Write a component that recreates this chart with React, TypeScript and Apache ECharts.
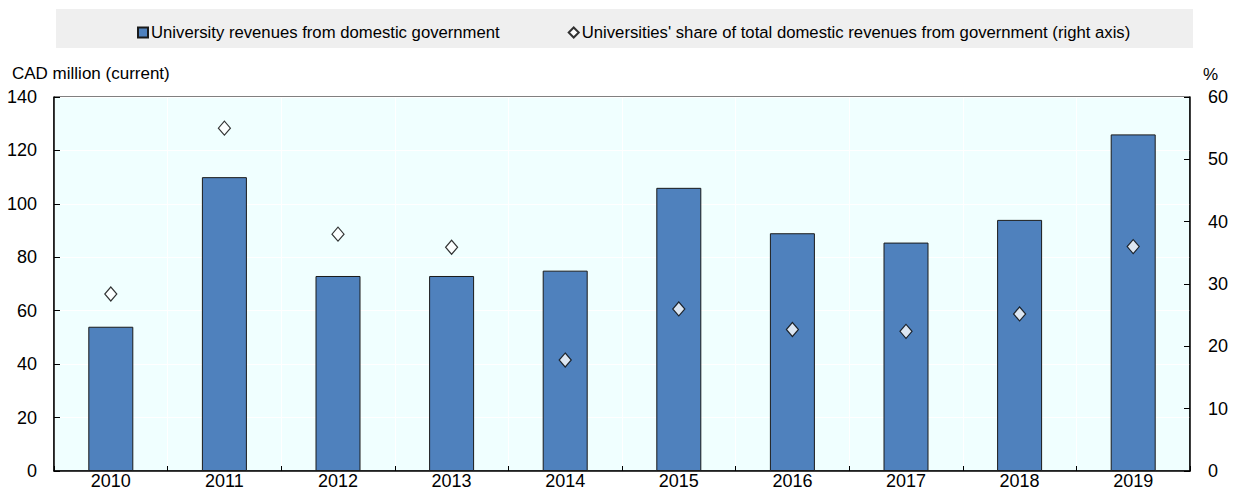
import React, { useEffect, useRef } from "react";
import * as echarts from "echarts";

const years = ["2010", "2011", "2012", "2013", "2014", "2015", "2016", "2017", "2018", "2019"];
const revenues = [54, 110, 73, 73, 75, 106, 89, 85.5, 94, 126];
const shares = [28.4, 55, 38, 35.9, 17.8, 26, 22.7, 22.4, 25.2, 36];
const barName = "University revenues from domestic government";
const shareName = "Universities' share of total domestic revenues from government (right axis)";
const leftAxisTitle = "CAD million (current)";
const rightAxisTitle = "%";

const FONT = "'Liberation Sans', Arial, Helvetica, sans-serif";

export default function App() {
  const ref = useRef<HTMLDivElement>(null);
  useEffect(() => {
    if (!ref.current) return;
    const chart = echarts.init(ref.current, undefined, { renderer: "svg" });
    chart.setOption({
      animation: false,
      textStyle: { fontFamily: FONT, color: "#000" },
      graphic: [
        {
          type: "rect",
          z: -10,
          shape: { x: 56, y: 9, width: 1137, height: 39 },
          style: { fill: "#EFEFEF" },
          silent: true,
        },
        {
          type: "text",
          x: 12,
          y: 73,
          style: { text: leftAxisTitle, font: `17px ${FONT}`, fill: "#000", textVerticalAlign: "middle" },
        },
        {
          type: "text",
          x: 1203,
          y: 74,
          style: { text: rightAxisTitle, font: `17px ${FONT}`, fill: "#000", textVerticalAlign: "middle" },
        },
      ],
      legend: {
        left: 132,
        top: 19,
        itemWidth: 10,
        itemHeight: 10,
        itemGap: 68,
        textStyle: { fontSize: 16.7, color: "#000", fontFamily: FONT, padding: [0, 0, 0, -2] },
        data: [
          { name: barName, icon: "rect" },
          { name: shareName, icon: "diamond" },
        ],
      },
      grid: {
        left: 54,
        right: 46,
        top: 97,
        bottom: 24,
        show: true,
        backgroundColor: "#F0FFFF",
        borderColor: "#000",
        borderWidth: 1,
        containLabel: false,
      },
      xAxis: {
        type: "category",
        data: years,
        boundaryGap: true,
        axisLine: { show: true, lineStyle: { color: "#000", width: 1.5 } },
        axisTick: { show: true, inside: true, length: 5, lineStyle: { color: "#000" } },
        axisLabel: { color: "#000", fontSize: 18, margin: 1, fontFamily: FONT },
        splitLine: { show: true, lineStyle: { color: "#FFFFFF", width: 1 } },
      },
      yAxis: [
        {
          type: "value",
          min: 0,
          max: 140,
          interval: 20,
          axisLine: { show: true, lineStyle: { color: "#000", width: 1.5 } },
          axisTick: { show: true, inside: true, length: 6, lineStyle: { color: "#000" } },
          axisLabel: { color: "#000", fontSize: 18, margin: 17, fontFamily: FONT },
          splitLine: { show: true, lineStyle: { color: "#FFFFFF", width: 1 } },
        },
        {
          type: "value",
          position: "right",
          min: 0,
          max: 60,
          interval: 10,
          axisLine: { show: true, lineStyle: { color: "#000", width: 1.5 } },
          axisTick: { show: true, inside: true, length: 6, lineStyle: { color: "#000" } },
          axisLabel: { color: "#000", fontSize: 18, margin: 18, fontFamily: FONT },
          splitLine: { show: false },
        },
      ],
      series: [
        {
          name: barName,
          type: "bar",
          data: revenues,
          barWidth: 45,
          itemStyle: { color: "#4F81BD", borderColor: "#1A1A1A", borderWidth: 1 },
        },
        {
          name: shareName,
          type: "scatter",
          yAxisIndex: 1,
          data: shares,
          symbol: "diamond",
          symbolSize: [12, 14],
          z: 5,
          itemStyle: { color: "#FFFFFF", borderColor: "#000", borderWidth: 1.2 },
        },
      ],
    });
    return () => chart.dispose();
  }, []);
  return (
    <div
      ref={ref}
      style={{ position: "absolute", left: 0, top: 0, width: 1236, height: 495 }}
    />
  );
}
